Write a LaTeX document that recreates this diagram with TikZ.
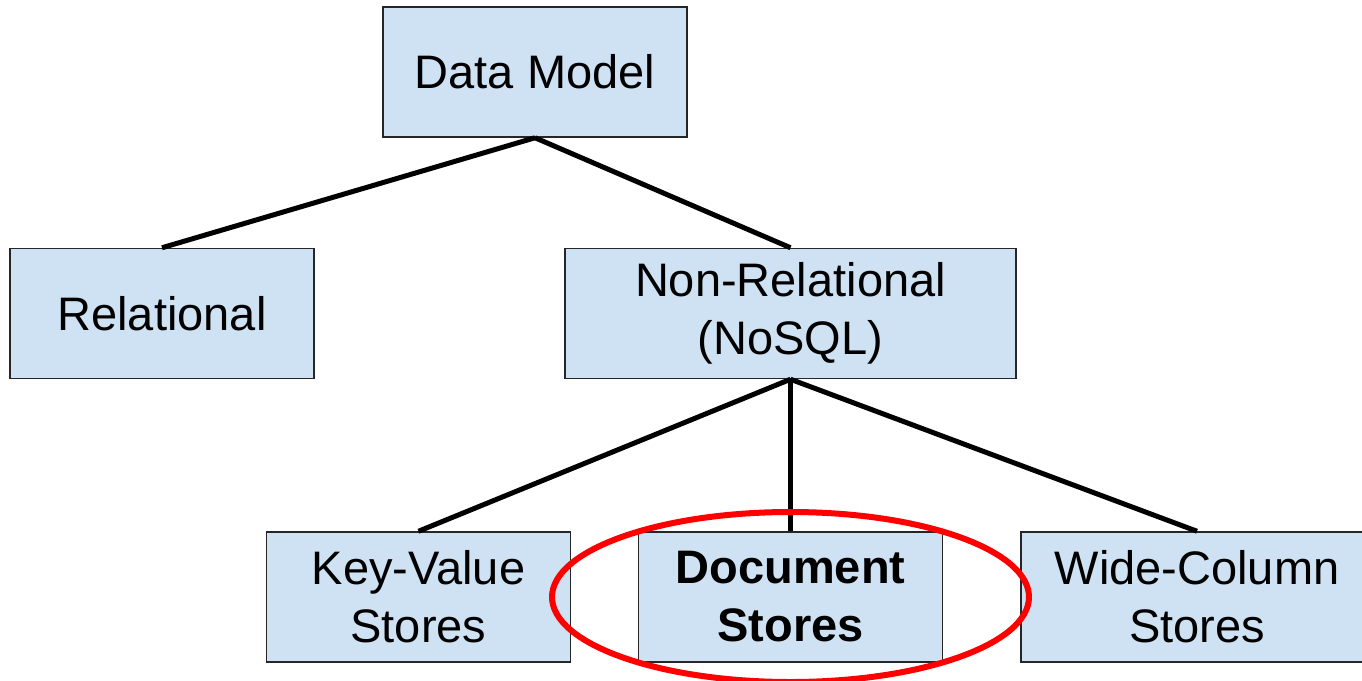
\documentclass[tikz,border=0pt]{standalone}
\usepackage{fontspec}
\setmainfont{Liberation Sans}
\usepackage{xcolor}
\usetikzlibrary{positioning}
\definecolor{boxblue}{HTML}{CFE2F3}

\begin{document}
\begin{tikzpicture}[
  node distance=55pt,
  box/.style={rectangle, draw=black!85, line width=0.75pt, fill=boxblue,
              align=center, minimum width=152pt, minimum height=65pt,
              inner sep=0pt, font=\fontsize{23.5}{29}\selectfont},
  link/.style={line width=2.5pt},
  ring/.style={draw=red, line width=3pt}
]
  \useasboundingbox (0,0) rectangle (681pt,-340.5pt);
  \node[box] (model) at (267.5pt,-36pt) {Data Model};
  \node[box, below=of model, xshift=-186.5pt] (rel) {Relational};
  \node[box, below=of model, xshift=127.75pt, minimum width=225.5pt] (nosql) {Non-Relational\\(NoSQL)};
  \node[box, below=76pt of nosql, xshift=-186pt] (kv) {Key-Value\\Stores};
  \node[box, below=76pt of nosql, font=\fontsize{23.5}{29}\selectfont\bfseries] (doc) {Document\\Stores};
  \node[box, below=76pt of nosql, xshift=203.25pt, minimum width=176pt] (wide) {Wide-Column\\Stores};

  \draw[link] (model.south) -- (rel.north);
  \draw[link] (model.south) -- (nosql.north);
  \draw[link] (nosql.south) -- (kv.north);
  \draw[link] (nosql.south) -- (doc.north);
  \draw[link] (nosql.south) -- (wide.north);

  % highlight
  \draw[ring] (doc.center) ellipse [x radius=119.25pt, y radius=42.5pt];
\end{tikzpicture}
\end{document}
